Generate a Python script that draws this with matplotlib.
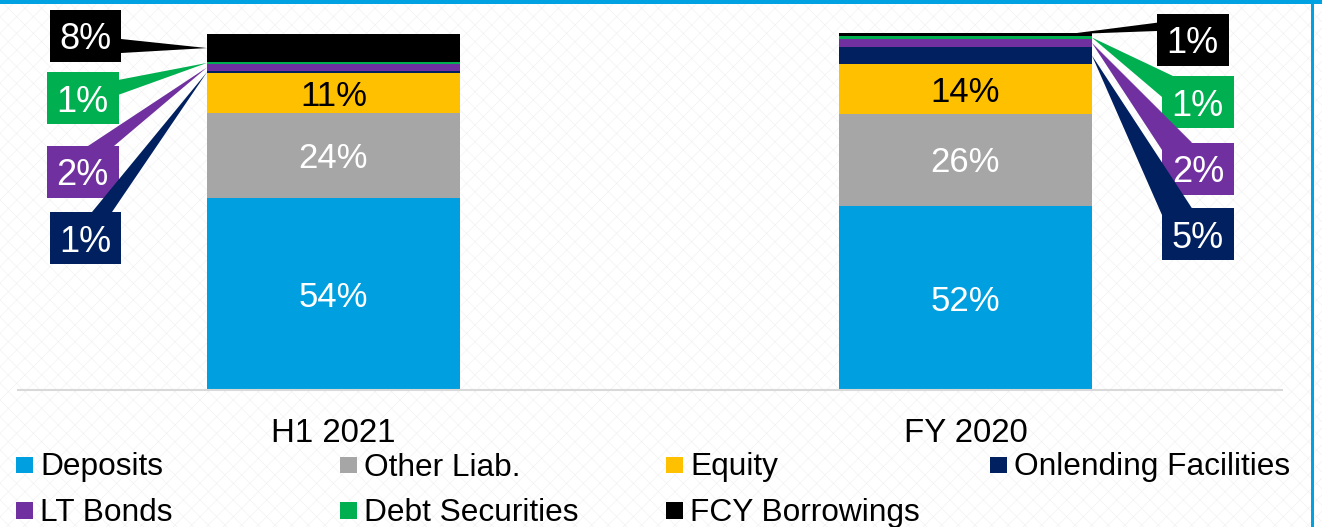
import matplotlib.pyplot as plt
from matplotlib.patches import Rectangle, Polygon

# funding mix, % of total liabilities & equity
periods = ['H1 2021', 'FY 2020']
series = ['Deposits', 'Other Liab.', 'Equity', 'Onlending Facilities',
          'LT Bonds', 'Debt Securities', 'FCY Borrowings']
deposits = [53.8, 51.6]
other_liab = [23.6, 25.7]
equity = [11.2, 13.9]
onlending = [0.8, 4.9]
lt_bonds = [1.8, 2.1]
debt_securities = [0.7, 0.9]
fcy_borrowings = [7.6, 0.9]

values = [deposits, other_liab, equity, onlending, lt_bonds, debt_securities, fcy_borrowings]
colors = ['#009FDF', '#A6A6A6', '#FFC000', '#002060', '#7030A0', '#00B050', '#000000']
inbar_text = ['white', 'white', 'black']

W, H = 1322, 527
plt.rcParams['font.family'] = ['Liberation Sans', 'DejaVu Sans']
plt.rcParams['hatch.linewidth'] = 0.4

fig = plt.figure(figsize=(W / 100, H / 100), dpi=100)

# faint crosshatch backdrop + blue frame
fig.patches.append(Rectangle((0, 0), 1, 1, transform=fig.transFigure, facecolor='white',
                             edgecolor='#f0f0f0', hatch='xx', lw=0, zorder=-10))
fig.patches.append(Rectangle((0, 1 - 4 / H), 1, 4 / H, transform=fig.transFigure,
                             facecolor='#00A2E2', lw=0, zorder=5))
fig.patches.append(Rectangle((1311 / W, 0), 2.5 / W, 1, transform=fig.transFigure,
                             facecolor='#00A2E2', lw=0, zorder=5))

ax = fig.add_axes([17.5 / W, (H - 390) / H, 1264 / W, (390 - 32.7) / H])
ax.patch.set_visible(False)
ax.set_xlim(-0.5, 1.5)
ax.set_ylim(0, 100)
for s in ['top', 'right', 'left']:
    ax.spines[s].set_visible(False)
ax.spines['bottom'].set_color('#D9D9D9')
ax.spines['bottom'].set_linewidth(1.5)
ax.set_xticks([])
ax.set_yticks([])


def to_data(px, py):
    # pixel position (origin top-left) -> data coordinates
    return ax.transData.inverted().transform((px, H - py))


x = [0, 1]
bar_w = 0.4
bottoms = [0.0, 0.0]
tops = []
for i, name in enumerate(series):
    ax.bar(x, values[i], bar_w, bottom=bottoms, color=colors[i], label=name, zorder=2)
    tops.append(list(bottoms))
    bottoms = [b + v for b, v in zip(bottoms, values[i])]

# labels inside the three large segments
for i in range(3):
    for j in range(2):
        mid = tops[i][j] + values[i][j] / 2
        mx, my = ax.transData.transform((x[j], mid))
        _, ty = to_data(mx, H - my + 12.7)
        ax.text(x[j], ty, f'{values[i][j]:.0f}%', ha='center', va='baseline',
                fontsize=25, color=inbar_text[i], zorder=4)

# callout boxes for the thin segments: (period, series, box left, box top, wedge base, tip side)
callouts = [
    (0, 6, 50, 10, [(121, 39), (121, 53)], -1.0),
    (0, 5, 47, 72, [(118, 80), (118, 95)], -1.0),
    (0, 4, 47, 146, [(88, 146), (114, 146)], -1.0),
    (0, 3, 50, 212, [(92, 212), (112, 212)], -1.0),
    (1, 6, 1157, 14, [(1157, 22.7), (1157, 31)], 0.8),
    (1, 5, 1162, 76, [(1162, 97), (1173, 76)], 1.0),
    (1, 4, 1162, 142.7, [(1162, 150), (1192, 142.7)], 1.0),
    (1, 3, 1162, 208.3, [(1162, 215), (1192, 208.3)], 1.0),
]
box_w, box_h = 71.5, 52
for j, i, left, top, base, side in callouts:
    mid = tops[i][j] + values[i][j] / 2
    tip = (x[j] + side * bar_w / 2, mid)
    pts = [tip] + [tuple(to_data(*p)) for p in base]
    ax.add_patch(Polygon(pts, closed=True, facecolor=colors[i], lw=0, clip_on=False, zorder=3))
    x0, y0 = to_data(left, top + box_h)
    x1, y1 = to_data(left + box_w, top)
    ax.add_patch(Rectangle((x0, y0), x1 - x0, y1 - y0, facecolor=colors[i], lw=0,
                           clip_on=False, zorder=3))
    tx, ty = to_data(left + box_w / 2, top + box_h / 2 + 13.5)
    ax.text(tx, ty, f'{values[i][j]:.0f}%', ha='center', va='baseline', fontsize=26,
            color='white', zorder=4, clip_on=False)

# category names under the bars
for j, p in enumerate(periods):
    _, ty = to_data(0, 441.7)
    ax.text(x[j], ty, p, ha='center', va='baseline', fontsize=23.8, clip_on=False)

# legend laid out on a fixed 4-column grid, row by row
col_x = [16, 340, 666, 990]
row_y = [465, 510.5]
sq = 16.5
for k, name in enumerate(series):
    cx = col_x[k % 4]
    cy = row_y[k // 4]
    fig.patches.append(Rectangle((cx / W, 1 - (cy + sq / 2) / H), sq / W, sq / H,
                                 transform=fig.transFigure, facecolor=colors[k], lw=0))
    fig.text((cx + 24.5) / W, 1 - (cy + 10.5) / H, name, fontsize=22.8, ha='left', va='baseline')

fig.savefig('out.png', dpi=100)
